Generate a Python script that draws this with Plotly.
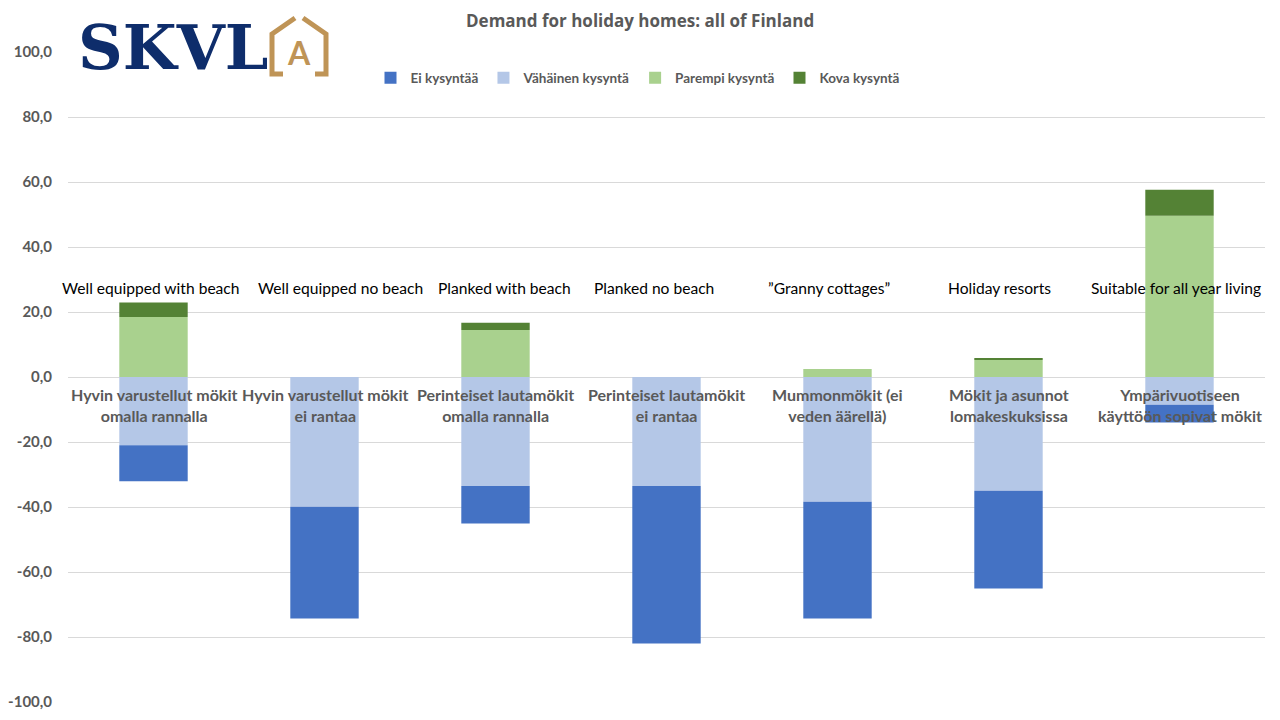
import plotly.graph_objects as go

categories_fi = [
    "Hyvin varustellut mökit<br>omalla rannalla",
    "Hyvin varustellut mökit<br>ei rantaa",
    "Perinteiset lautamökit<br>omalla rannalla",
    "Perinteiset lautamökit<br>ei rantaa",
    "Mummonmökit (ei<br>veden äärellä)",
    "Mökit ja asunnot<br>lomakeskuksissa",
    "Ympärivuotiseen<br>käyttöön sopivat mökit",
]
categories_en = [
    "Well equipped with beach",
    "Well equipped no beach",
    "Planked with beach",
    "Planked no beach",
    "”Granny cottages”",
    "Holiday resorts",
    "Suitable for all year living",
]
ei_kysyntaa = [-11.1, -34.4, -11.6, -48.5, -35.9, -30.1, -5.5]
vahainen_kysynta = [-21.0, -39.9, -33.5, -33.5, -38.4, -35.0, -8.5]
parempi_kysynta = [18.5, 0.0, 14.5, 0.0, 2.5, 5.3, 49.6]
kova_kysynta = [4.4, 0.0, 2.2, 0.0, 0.0, 0.3, 8.0]
y_ticks = [-100, -80, -60, -40, -20, 0, 20, 40, 60, 80, 100]
y_tick_labels = ["-100,0", "-80,0", "-60,0", "-40,0", "-20,0", "0,0",
                 "20,0", "40,0", "60,0", "80,0", "100,0"]

title_text = "Demand for holiday homes: all of Finland"

# style: horizontal nudges (px) of the English text boxes
en_label_shift = [-3, 16, 9, -13, -9, -9, -4]

# layout geometry (pixels); page body adds an 8px offset, so the figure is
# sized to fit inside the 1280x720 window
OFF = 8
W, H = 1280 - 2 * OFF, 720 - 2 * OFF
PL, PR, PT, PB = 68, 1265, 52, 702          # wanted plot edges on screen
ML, MT = PL - OFF, PT - OFF
MR, MB = (OFF + W) - PR, (OFF + H) - PB
PW, PH = W - ML - MR, H - MT - MB


def px(x):
    return (x - OFF - ML) / PW


def py(y):
    return (H - MB - (y - OFF)) / PH


GRAY = "#595959"
fig = go.Figure()
fig.add_trace(go.Bar(x=categories_fi, y=vahainen_kysynta, name="Vähäinen kysyntä",
                     marker_color="#B4C7E7", legendrank=2))
fig.add_trace(go.Bar(x=categories_fi, y=ei_kysyntaa, name="Ei kysyntää",
                     marker_color="#4472C4", legendrank=1))
fig.add_trace(go.Bar(x=categories_fi, y=parempi_kysynta, name="Parempi kysyntä",
                     marker_color="#A9D18E", legendrank=3))
fig.add_trace(go.Bar(x=categories_fi, y=kova_kysynta, name="Kova kysyntä",
                     marker_color="#548235", legendrank=4))
for tr in fig.data:
    tr.marker.line.width = 0

annotations = []
for c, en, dx in zip(categories_fi, categories_en, en_label_shift):
    annotations.append(dict(x=c, y=0, xref="x", yref="y", text="<b>" + c + "</b>",
                            showarrow=False, yanchor="top", yshift=-6,
                            font=dict(family="Lato", size=16, color=GRAY)))
    annotations.append(dict(x=c, y=27.5, xref="x", yref="y", text=en,
                            showarrow=False, yanchor="middle", xshift=dx,
                            font=dict(family="Lato", size=15.6, color="#000000")))

annotations.append(dict(x=px(640), y=py(21), xref="paper", yref="paper",
                        text="<b>" + title_text + "</b>", showarrow=False,
                        xanchor="center", yanchor="middle",
                        font=dict(family="Open Sans", size=17, color=GRAY)))
# logo text
annotations.append(dict(x=px(76), y=py(47), xref="paper", yref="paper",
                        text="<b>SKVL</b>", showarrow=False, xanchor="left",
                        yanchor="middle",
                        font=dict(family="DejaVu Serif", size=62, color="#0E2D6B")))
annotations.append(dict(x=px(299), y=py(53), xref="paper", yref="paper",
                        text="<b>A</b>", showarrow=False, xanchor="center",
                        yanchor="middle",
                        font=dict(family="Lato", size=32, color="#BF9456")))

gold = "#BF9456"
shapes = [
    dict(type="rect", xref="paper", yref="paper", x0=px(70), x1=px(332),
         y0=py(12), y1=py(82), fillcolor="white", line_width=0, layer="above"),
    dict(type="path", xref="paper", yref="paper",
         path=(f"M {px(283)},{py(74)} L {px(272)},{py(74)} L {px(272)},{py(34)} "
               f"L {px(295)},{py(18)}"),
         line=dict(color=gold, width=5), layer="above"),
    dict(type="path", xref="paper", yref="paper",
         path=(f"M {px(303)},{py(18)} L {px(326)},{py(34)} L {px(326)},{py(74)} "
               f"L {px(315)},{py(74)}"),
         line=dict(color=gold, width=5), layer="above"),
]

fig.update_layout(
    width=W, height=H,
    barmode="relative",
    bargap=0.6,
    plot_bgcolor="white", paper_bgcolor="white",
    margin=dict(l=ML, r=MR, t=MT, b=MB, autoexpand=False),
    showlegend=True,
    legend=dict(orientation="h", xref="paper", yref="paper",
                x=px(638), y=py(78), xanchor="center", yanchor="middle",
                font=dict(family="Lato", size=13.5, color=GRAY, weight="bold"),
                traceorder="normal", itemwidth=30, bgcolor="rgba(0,0,0,0)"),
    xaxis=dict(showticklabels=False, showgrid=False, zeroline=False,
               showline=False, ticks="", range=[-0.5, 6.5]),
    yaxis=dict(range=[-100, 100], tickvals=y_ticks, ticktext=y_tick_labels,
               showgrid=True, gridcolor="#D9D9D9", gridwidth=1,
               zeroline=True, zerolinecolor="#D9D9D9", zerolinewidth=1,
               showline=False, ticks="", ticklabelstandoff=15,
               tickfont=dict(family="Lato", size=15, color=GRAY, weight="bold")),
    annotations=annotations,
    shapes=shapes,
    font=dict(family="Lato"),
)

fig.write_html("out.html")
